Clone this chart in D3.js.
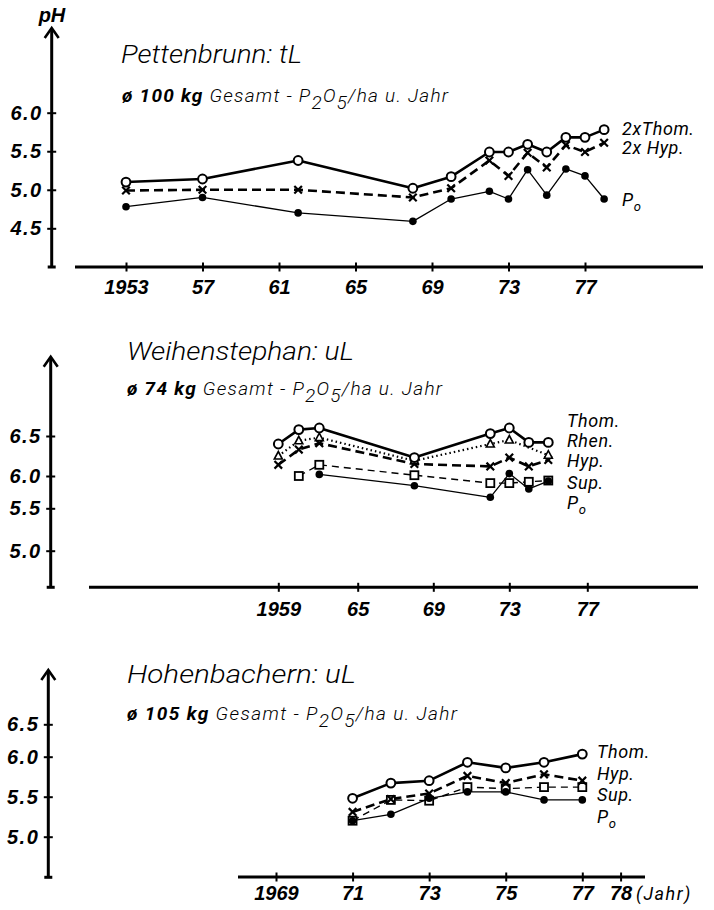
<!DOCTYPE html>
<html>
<head>
<meta charset="utf-8">
<script src="https://cdn.jsdelivr.net/npm/d3@7"></script>
<style>
  html, body { margin: 0; padding: 0; background: #fff; }
  svg { display: block; }
  .num { font-family: "Liberation Sans", Arial, sans-serif; font-weight: bold; font-style: italic; font-size: 20px; fill: #000; }
  .title { font-family: Roboto, "Liberation Sans", sans-serif; font-weight: 300; font-style: italic; font-size: 25px; fill: #000; }
  .sub { font-family: Roboto, "Liberation Sans", sans-serif; font-weight: 300; font-style: italic; font-size: 19px; fill: #000; }
  .lab { font-family: Roboto, "Liberation Sans", sans-serif; font-weight: 400; font-style: italic; font-size: 18px; fill: #000; }
</style>
</head>
<body>
<svg class="chart" width="714" height="910"></svg>
<script>
// ---- data ----

// Pettenbrunn: tL
const pettYears = [1953, 1957, 1962, 1968, 1970, 1972, 1973, 1974, 1975, 1976, 1977, 1978];
const pettThom = [5.10, 5.14, 5.38, 5.02, 5.17, 5.49, 5.49, 5.59, 5.49, 5.68, 5.68, 5.78];
const pettHyp  = [4.99, 5.00, 5.00, 4.90, 5.02, 5.38, 5.18, 5.48, 5.29, 5.58, 5.49, 5.61];
const pettPo   = [4.78, 4.90, 4.70, 4.59, 4.88, 4.98, 4.88, 5.26, 4.93, 5.27, 5.18, 4.88];
const pettXTicks = [1953, 1957, 1961, 1965, 1969, 1973, 1977];
const pettYTicks = [4.5, 5.0, 5.5, 6.0];

// Weihenstephan: uL
const weihYears = [1959, 1960, 1961, 1968, 1972, 1973, 1974, 1975];
const weihThom  = [6.40, 6.58, 6.60, 6.23, 6.53, 6.60, 6.42, 6.42];
const weihHyp   = [6.14, 6.33, 6.41, 6.15, 6.12, 6.23, 6.12, 6.20];
const weihRhenYears = [1959, 1960, 1961, 1968, 1972, 1973, 1975];
const weihRhen  = [6.25, 6.44, 6.48, 6.19, 6.40, 6.45, 6.26];
const weihSupYears = [1960, 1961, 1968, 1972, 1973, 1974, 1975];
const weihSup   = [6.00, 6.14, 6.01, 5.89, 5.89, 5.91, 5.93];
const weihPoYears = [1961, 1968, 1972, 1973, 1974, 1975];
const weihPo    = [6.02, 5.85, 5.67, 6.03, 5.80, 5.92];
const weihXTicks = [1959, 1965, 1969, 1973, 1977];
const weihYTicks = [5.0, 5.5, 6.0, 6.5];

// Hohenbachern: uL
const hohYears = [1971, 1972, 1973, 1974, 1975, 1976, 1977];
const hohThom  = [5.48, 5.67, 5.70, 5.93, 5.86, 5.93, 6.04];
const hohHyp   = [5.31, 5.47, 5.54, 5.76, 5.67, 5.78, 5.70];
const hohSup   = [5.20, 5.46, 5.45, 5.62, 5.60, 5.62, 5.62];
const hohPo    = [5.20, 5.28, 5.48, 5.56, 5.56, 5.46, 5.46];
const hohXTicks = [1969, 1971, 1973, 1975, 1977, 1978];
const hohYTicks = [5.0, 5.5, 6.0, 6.5];

// ---- styles ----
const styles = {
  thom: { width: 2.6, dash: null,     marker: "circle" },
  hyp:  { width: 2.6, dash: "9,5",    marker: "x" },
  rhen: { width: 2.2, dash: "1.5,3",  marker: "triangle" },
  sup:  { width: 1.4, dash: "7,5",    marker: "square" },
  po:   { width: 1.3, dash: null,     marker: "dot" }
};

const svg = d3.select("svg.chart");

function translate(x, y) {
  return `translate(${x}, ${y})`;
}

const yearFormat = (d, i) => i === 0 ? String(d) : String(d).slice(2);

function drawMarker(sel, type) {
  if (type === "circle") {
    sel.append("circle").attr("r", 4.4).attr("fill", "#fff").attr("stroke", "#000").attr("stroke-width", 2);
  } else if (type === "dot") {
    sel.append("circle").attr("r", 3.8).attr("fill", "#000");
  } else if (type === "x") {
    sel.append("path").attr("d", "M-3.8,-3.8L3.8,3.8M-3.8,3.8L3.8,-3.8")
      .attr("stroke", "#000").attr("stroke-width", 2.2);
  } else if (type === "square") {
    sel.append("rect").attr("x", -4).attr("y", -4).attr("width", 8).attr("height", 8)
      .attr("fill", "#fff").attr("stroke", "#000").attr("stroke-width", 1.8);
  } else if (type === "triangle") {
    sel.append("path").attr("d", "M0,-4.5L4,3L-4,3Z")
      .attr("fill", "#fff").attr("stroke", "#000").attr("stroke-width", 1.6);
  }
}

function drawPanel(p) {
  const x = d3.scaleLinear().domain(p.xDomain).range(p.xRange);
  const y = d3.scaleLinear().domain(p.yDomain).range(p.yRange);
  const g = svg.append("g").attr("class", "panel");

  // y axis with arrow
  g.append("line")
    .attr("x1", p.axisX).attr("x2", p.axisX)
    .attr("y1", p.axisTop + 1).attr("y2", p.axisBottom)
    .attr("stroke", "#000").attr("stroke-width", 3);
  g.append("path")
    .attr("d", `M${p.axisX - 7},${p.axisTop + 10}L${p.axisX},${p.axisTop}L${p.axisX + 7},${p.axisTop + 10}`)
    .attr("fill", "none").attr("stroke", "#000").attr("stroke-width", 2.6);
  g.append("line")
    .attr("x1", p.axisX - 4).attr("x2", p.axisX + 4)
    .attr("y1", p.axisBottom).attr("y2", p.axisBottom)
    .attr("stroke", "#000").attr("stroke-width", 3);

  const gy = g.append("g")
    .attr("transform", translate(p.axisX, 0))
    .call(d3.axisLeft(y).tickValues(p.yTicks).tickSize(0).tickPadding(9).tickFormat(d3.format(".1f")));
  gy.select(".domain").remove();
  gy.selectAll(".tick line").attr("x1", -4.5).attr("x2", 4.5).attr("stroke", "#000").attr("stroke-width", 2);
  gy.selectAll(".tick text").attr("class", "num").attr("letter-spacing", 1.5);

  // x axis
  g.append("line")
    .attr("x1", p.xLine[0]).attr("x2", p.xLine[1])
    .attr("y1", p.axisY).attr("y2", p.axisY)
    .attr("stroke", "#000").attr("stroke-width", 3);
  const gx = g.append("g")
    .attr("transform", translate(0, p.axisY))
    .call(d3.axisBottom(x).tickValues(p.xTicks).tickSize(0).tickFormat(yearFormat));
  gx.select(".domain").remove();
  gx.selectAll(".tick line").attr("y1", -4.5).attr("y2", 4.5).attr("stroke", "#000").attr("stroke-width", 2);
  gx.selectAll(".tick text").attr("class", "num").attr("dy", null).attr("y", p.xLabelOffset);

  // series lines
  const line = d3.line().x(d => x(d.yr)).y(d => y(d.v));
  p.series.forEach(s => {
    const st = styles[s.style];
    const pts = s.years.map((yr, i) => ({ yr, v: s.values[i] }));
    g.append("path").datum(pts)
      .attr("d", line)
      .attr("fill", "none")
      .attr("stroke", "#000")
      .attr("stroke-width", st.width)
      .attr("stroke-dasharray", st.dash)
      .attr("stroke-linejoin", "round");
  });

  // markers
  p.series.forEach(s => {
    const st = styles[s.style];
    const pts = s.years.map((yr, i) => ({ yr, v: s.values[i] }));
    g.append("g").selectAll("g.marker")
      .data(pts)
      .enter()
      .append("g").attr("class", "marker")
      .attr("transform", d => translate(x(d.yr), y(d.v)))
      .each(function () { drawMarker(d3.select(this), st.marker); });
  });

  // title
  g.append("text").attr("class", "title")
    .attr("x", p.titleX).attr("y", p.titleY)
    .attr("textLength", p.titleWidth).attr("lengthAdjust", "spacingAndGlyphs")
    .text(p.title);

  // subtitle
  const sub = g.append("text").attr("class", "sub")
    .attr("x", p.subX).attr("y", p.subY)
    .attr("textLength", p.subWidth).attr("lengthAdjust", "spacing");
  sub.append("tspan").attr("font-weight", 700).text(p.amount);
  sub.append("tspan").text(" Gesamt - P");
  sub.append("tspan").attr("dy", 7).text("2");
  sub.append("tspan").attr("dy", -7).text("O");
  sub.append("tspan").attr("dy", 7).text("5");
  sub.append("tspan").attr("dy", -7).text("/ha u. Jahr");

  // series labels
  p.labels.forEach(l => {
    const t = g.append("text").attr("class", "lab")
      .attr("x", p.labelX).attr("y", l.y).attr("letter-spacing", 0.6)
      .attr("font-size", p.labelSize)
      .text(l.text);
    if (l.sub) {
      t.append("tspan").attr("dy", 5).attr("font-size", 13).text(l.sub);
    }
  });
}

// ---- panels ----
drawPanel({
  title: "Pettenbrunn: tL", amount: "ø 100 kg",
  xDomain: [1953, 1977], xRange: [126, 585],
  yDomain: [4.5, 6.0], yRange: [228.3, 112.7],
  xTicks: pettXTicks, yTicks: pettYTicks,
  axisX: 51.7, axisTop: 28, axisBottom: 267, axisY: 267, xLine: [75, 703], xLabelOffset: 27,
  titleX: 121, titleY: 63, titleWidth: 181, subX: 122, subY: 101.7, subWidth: 326,
  labelX: 622, labelSize: 18,
  series: [
    { style: "po", years: pettYears, values: pettPo },
    { style: "hyp", years: pettYears, values: pettHyp },
    { style: "thom", years: pettYears, values: pettThom }
  ],
  labels: [
    { text: "2xThom.", y: 135 },
    { text: "2x Hyp.", y: 154 },
    { text: "P", sub: "o", y: 206 }
  ]
});

drawPanel({
  title: "Weihenstephan: uL", amount: "ø 74 kg",
  xDomain: [1959, 1961, 1965, 1969, 1973, 1977], xRange: [278.3, 319.3, 357.7, 433.3, 509.3, 587.3],
  yDomain: [5.0, 5.5, 6.0, 6.5], yRange: [550.7, 508.3, 476, 436],
  xTicks: weihXTicks, yTicks: weihYTicks,
  axisX: 50.7, axisTop: 356.7, axisBottom: 587.3, axisY: 587.3, xLine: [89, 698], xLabelOffset: 29,
  titleX: 127, titleY: 360, titleWidth: 227, subX: 127, subY: 395, subWidth: 315,
  labelX: 567, labelSize: 17,
  series: [
    { style: "sup", years: weihSupYears, values: weihSup },
    { style: "po", years: weihPoYears, values: weihPo },
    { style: "hyp", years: weihYears, values: weihHyp },
    { style: "rhen", years: weihRhenYears, values: weihRhen },
    { style: "thom", years: weihYears, values: weihThom }
  ],
  labels: [
    { text: "Thom.", y: 427 },
    { text: "Rhen.", y: 447 },
    { text: "Hyp.", y: 467 },
    { text: "Sup.", y: 489 },
    { text: "P", sub: "o", y: 509 }
  ]
});

drawPanel({
  title: "Hohenbachern: uL", amount: "ø 105 kg",
  xDomain: [1969, 1977], xRange: [276, 582.3],
  yDomain: [5.0, 5.5, 6.0, 6.5], yRange: [836.7, 796.7, 756.7, 724.3],
  xTicks: hohXTicks, yTicks: hohYTicks,
  axisX: 48.3, axisTop: 670, axisBottom: 877.3, axisY: 877, xLine: [238, 645], xLabelOffset: 23,
  titleX: 127, titleY: 683.3, titleWidth: 229, subX: 127, subY: 719.5, subWidth: 330,
  labelX: 597, labelSize: 18,
  series: [
    { style: "sup", years: hohYears, values: hohSup },
    { style: "po", years: hohYears, values: hohPo },
    { style: "hyp", years: hohYears, values: hohHyp },
    { style: "thom", years: hohYears, values: hohThom }
  ],
  labels: [
    { text: "Thom.", y: 758 },
    { text: "Hyp.", y: 780 },
    { text: "Sup.", y: 801 },
    { text: "P", sub: "o", y: 823 }
  ]
});

// axis captions
svg.append("text").attr("class", "num")
  .attr("x", 52).attr("y", 22).attr("text-anchor", "middle").attr("font-size", 15)
  .text("pH");
svg.append("text").attr("class", "lab")
  .attr("x", 636).attr("y", 900).attr("letter-spacing", 1.5)
  .text("(Jahr)");
</script>
</body>
</html>
